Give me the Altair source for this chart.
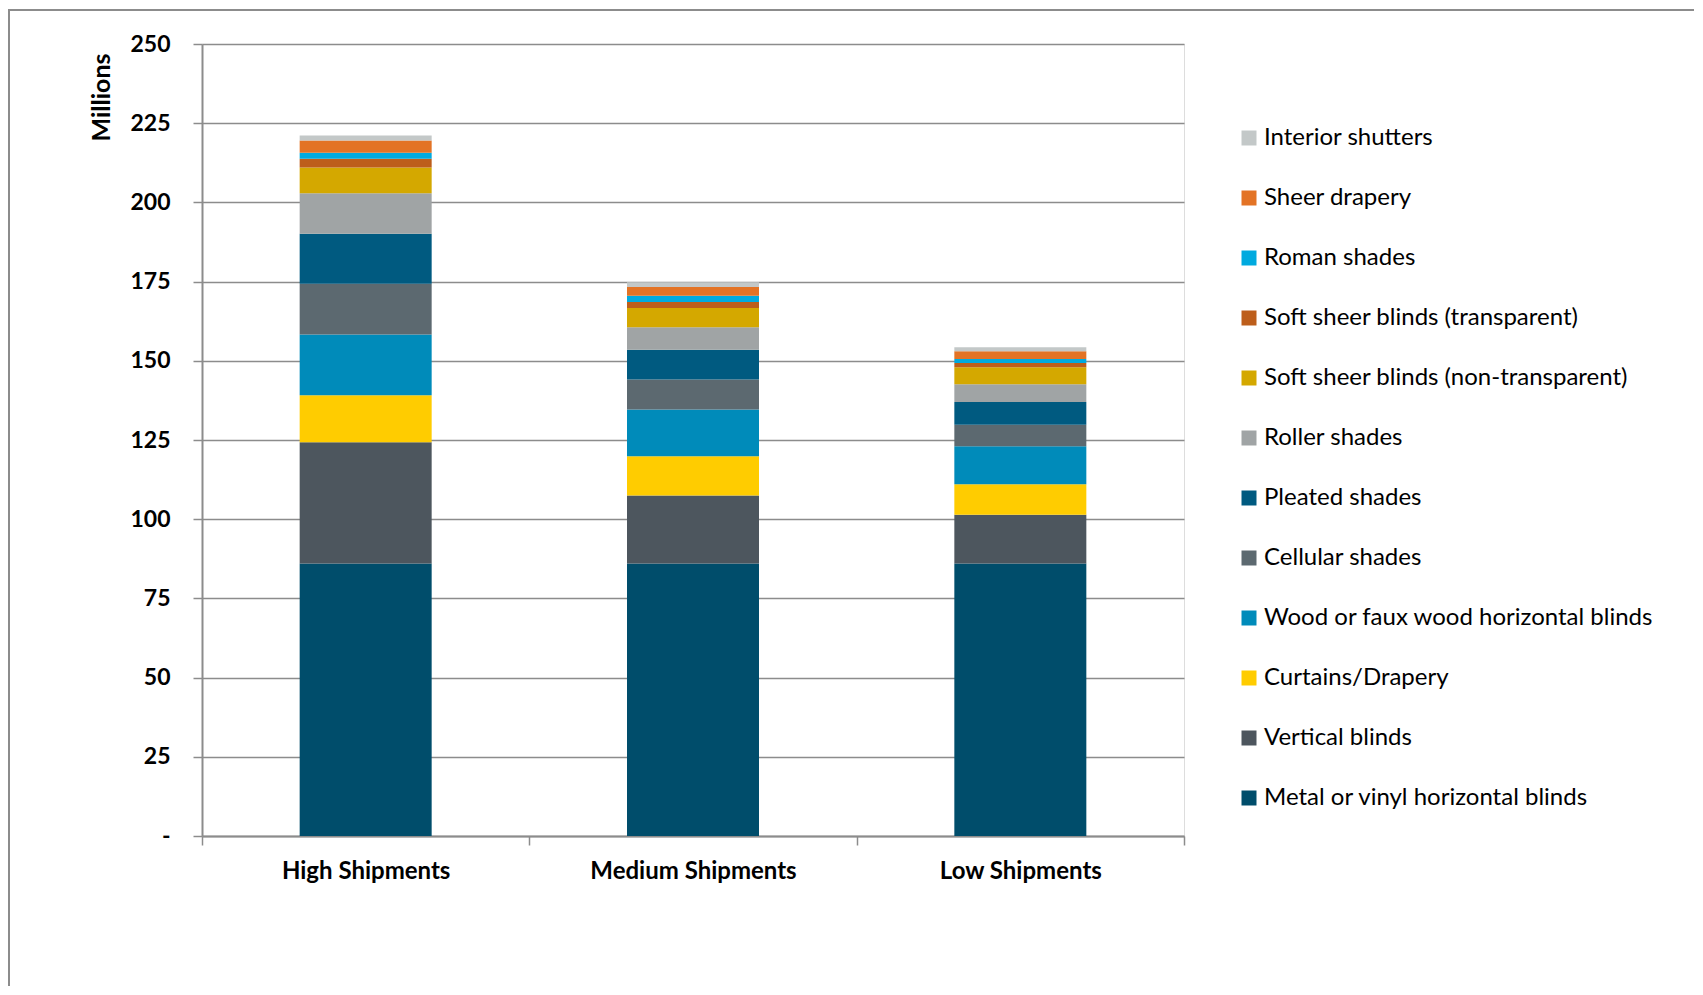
import altair as alt
import pandas as pd

categories = ["High Shipments", "Medium Shipments", "Low Shipments"]

# stacking order, bottom to top
series = [
    "Metal or vinyl horizontal blinds",
    "Vertical blinds",
    "Curtains/Drapery",
    "Wood or faux wood horizontal blinds",
    "Cellular shades",
    "Pleated shades",
    "Roller shades",
    "Soft sheer blinds (non-transparent)",
    "Soft sheer blinds (transparent)",
    "Roman shades",
    "Sheer drapery",
    "Interior shutters",
]

colors = [
    "#004D6B", "#4D565E", "#FFCC00", "#008BBA", "#5C6970", "#005A80",
    "#A0A4A5", "#D4A800", "#BD5E1B", "#00AADF", "#E37325", "#C3C8C8",
]

metal = [86.0, 86.0, 86.0]
vertical = [38.3, 21.5, 15.4]
curtains = [14.8, 12.4, 9.6]
wood = [19.2, 14.7, 12.0]
cellular = [16.0, 9.5, 6.8]
pleated = [15.8, 9.4, 7.2]
roller = [12.8, 7.1, 5.6]
soft_non = [8.1, 6.1, 5.4]
soft_trans = [2.8, 1.9, 1.3]
roman = [1.9, 1.9, 1.3]
sheer = [3.8, 2.8, 2.4]
interior = [1.6, 1.5, 1.3]

all_values = [metal, vertical, curtains, wood, cellular, pleated, roller,
              soft_non, soft_trans, roman, sheer, interior]

y_ticks = [0, 25, 50, 75, 100, 125, 150, 175, 200, 225, 250]

rows = []
for i, (s, vals) in enumerate(zip(series, all_values)):
    for c, v in zip(categories, vals):
        rows.append({"category": c, "series": s, "value": v, "order": i})
df = pd.DataFrame(rows)

GRAY = "#8c8c8c"
FONT = "Lato"

bars = alt.Chart(df).mark_bar(size=132).encode(
    x=alt.X(
        "category:N",
        sort=categories,
        scale=alt.Scale(paddingInner=0, paddingOuter=0),
        axis=alt.Axis(
            title=None, labelAngle=0, tickBand="extent", grid=False,
            labelFontSize=24, labelFontWeight="bold", labelColor="black",
            labelFont=FONT, labelLimit=0, tickSize=9, tickColor=GRAY,
            tickWidth=1.5, domainColor=GRAY, domainWidth=2, labelPadding=14,
        ),
    ),
    y=alt.Y(
        "value:Q",
        stack="zero",
        scale=alt.Scale(domain=[0, 250], nice=False),
        axis=alt.Axis(
            values=y_ticks,
            labelExpr="datum.value == 0 ? '-' : datum.label",
            title="Millions", titleFont=FONT, titleFontSize=25,
            titleFontWeight="bold", titleColor="black", titleAngle=-90,
            titleX=-101, titleY=9, titleAlign="right", titleBaseline="middle",
            labelFontSize=23, labelFontWeight="bold", labelColor="black",
            labelFont=FONT, labelPadding=23, tickSize=9, tickColor=GRAY,
            tickWidth=1.5, domainColor=GRAY, domainWidth=2,
            grid=True, gridColor=GRAY, gridWidth=1.5,
        ),
    ),
    color=alt.Color(
        "series:N",
        scale=alt.Scale(domain=series[::-1], range=colors[::-1]),
        legend=alt.Legend(
            title=None, orient="none", legendX=1035, legendY=82,
            labelFontSize=24, labelFont=FONT, labelColor="black",
            symbolType="square", symbolSize=225, symbolStrokeWidth=0,
            rowPadding=36, padding=0, labelOffset=3, labelLimit=0,
        ),
    ),
    order=alt.Order("order:Q", sort="ascending"),
)

frame = alt.Chart(pd.DataFrame({"a": [0]})).mark_rect(
    fillOpacity=0, stroke=GRAY, strokeWidth=2
).encode(
    x=alt.value(-193), x2=alt.value(1497), y=alt.value(-34), y2=alt.value(1000)
)

chart = alt.layer(frame, bars).properties(
    width=982,
    height=792,
    padding={"left": 194, "top": 36, "right": 510, "bottom": 150},
    autosize=alt.AutoSizeParams(type="none"),
).configure_view(stroke=None).configure(font=FONT)

chart.save("out.html", embed_options={"renderer": "svg", "actions": False})
